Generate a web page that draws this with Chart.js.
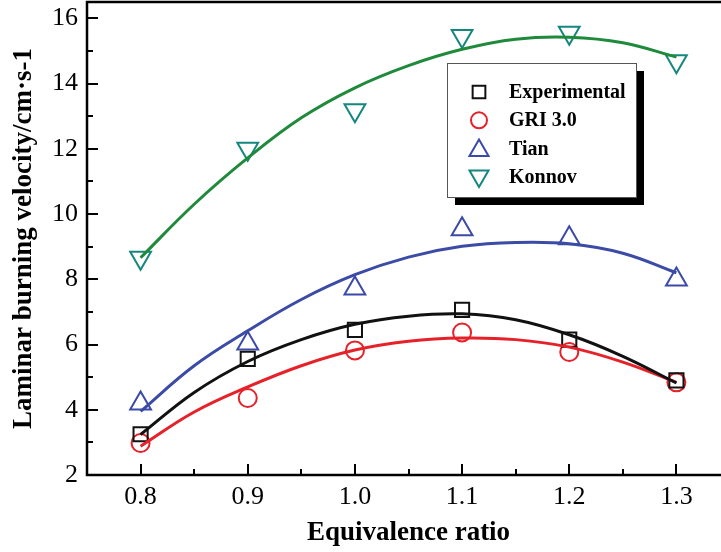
<!DOCTYPE html>
<html>
<head>
<meta charset="utf-8">
<script src="https://cdn.jsdelivr.net/npm/chart.js@4.4.1/dist/chart.umd.min.js"></script>
<style>
  html, body { margin: 0; padding: 0; background: #fff; overflow: hidden; }
  #wrap { width: 731px; height: 552px; }
</style>
</head>
<body>
<div id="wrap"><canvas id="burnChart" width="731" height="552"></canvas></div>
<script>
// measured points
const phi = [0.8, 0.9, 1.0, 1.1, 1.2, 1.3];
const experimental = [3.25, 5.56, 6.45, 7.06, 6.15, 4.9];
const gri30 = [2.98, 4.36, 5.82, 6.37, 5.77, 4.84];
const tian = [4.19, 6.03, 7.72, 9.53, 9.26, 7.99];
const konnov = [8.66, 12.0, 13.18, 15.46, 15.56, 14.68];

// fitted curves, sampled every 0.05
const fitPhi = [0.8, 0.85, 0.9, 0.95, 1.0, 1.05, 1.1, 1.15, 1.2, 1.25, 1.3];
const fitExperimental = [3.24, 4.53, 5.48, 6.15, 6.62, 6.87, 6.94, 6.76, 6.3, 5.64, 4.82];
const fitGri30 = [2.88, 3.93, 4.7, 5.35, 5.83, 6.1, 6.2, 6.15, 5.92, 5.46, 4.84];
const fitTian = [3.95, 5.35, 6.42, 7.38, 8.14, 8.68, 9.01, 9.13, 9.09, 8.8, 8.2];
const fitKonnov = [8.66, 10.3, 11.72, 12.95, 13.87, 14.55, 15.05, 15.36, 15.42, 15.25, 14.81];

const seriesNames = ["Experimental", "GRI 3.0", "Tian", "Konnov"];
const xTicks = [0.8, 0.9, 1.0, 1.1, 1.2, 1.3];
const yTicks = [2, 4, 6, 8, 10, 12, 14, 16];

const SERIF = "'Liberation Serif', 'Times New Roman', serif";

function pts(xs, ys) {
  return xs.map((x, i) => ({ x, y: ys[i] }));
}

function markerSet(label, data, color, style, radius, rotation) {
  return {
    label, data: pts(phi, data), showLine: false,
    pointStyle: style, pointRadius: radius, pointRotation: rotation || 0,
    pointBorderColor: color, pointBackgroundColor: "rgba(0,0,0,0)",
    pointBorderWidth: 2, pointHoverRadius: radius, order: 1
  };
}

function fitSet(data, color) {
  return {
    label: "", data: pts(fitPhi, data), showLine: true,
    borderColor: color, borderWidth: 3, pointRadius: 0, tension: 0.4,
    fill: false, order: 0
  };
}

const markers = [
  markerSet(seriesNames[0], experimental, "#111", "rect", 10),
  markerSet(seriesNames[1], gri30, "#e62129", "circle", 9),
  markerSet(seriesNames[2], tian, "#3b49a8", "triangle", 12),
  markerSet(seriesNames[3], konnov, "#15877f", "triangle", 12, 180)
];

// pin the plot box, ignoring the room chart.js keeps for edge labels
const plotBox = {
  id: "plotBox",
  afterLayout(chart) {
    const a = chart.chartArea;
    a.left = 87; a.top = 2; a.right = 730; a.bottom = 475;
    a.width = a.right - a.left; a.height = a.bottom - a.top;
    const { x, y } = chart.scales;
    x.left = a.left; x.right = a.right; x.width = a.width;
    x.top = a.bottom; x.bottom = 552; x.height = 552 - a.bottom;
    y.left = 0; y.right = a.left; y.width = a.left;
    y.top = a.top; y.bottom = a.bottom; y.height = a.height;
    x.configure();
    y.configure();
  }
};

// box frame plus inward ticks
const frameTicks = {
  id: "frameTicks",
  afterDraw(chart) {
    const { ctx, chartArea: a, scales: { x, y } } = chart;
    ctx.save();
    ctx.strokeStyle = "#000";
    ctx.lineWidth = 2;
    x.ticks.forEach(t => {
      const h = Math.round(t.value * 100);
      if (h <= 75 || h >= 135) return;
      const len = h % 10 === 0 ? 11 : 6;
      const px = Math.round(x.getPixelForValue(t.value));
      ctx.beginPath();
      ctx.moveTo(px, a.bottom);
      ctx.lineTo(px, a.bottom - len);
      ctx.stroke();
    });
    y.ticks.forEach(t => {
      if (t.value <= 2 || t.value > 16) return;
      const len = t.value % 2 === 0 ? 11 : 6;
      const py = Math.round(y.getPixelForValue(t.value));
      ctx.beginPath();
      ctx.moveTo(a.left, py);
      ctx.lineTo(a.left + len, py);
      ctx.stroke();
    });
    ctx.lineWidth = 2.5;
    ctx.strokeRect(a.left, a.top, a.right - a.left, a.bottom - a.top);
    ctx.restore();
  }
};

// legend box with drop shadow
const boxLegend = {
  id: "boxLegend",
  afterDraw(chart) {
    const { ctx } = chart;
    const bx = 447, by = 63, bw = 189, bh = 134;
    ctx.save();
    ctx.fillStyle = "#000";
    ctx.fillRect(bx + 8, by + 8, bw, bh);
    ctx.fillStyle = "#fff";
    ctx.fillRect(bx, by, bw, bh);
    ctx.strokeStyle = "#555";
    ctx.lineWidth = 1;
    ctx.strokeRect(bx + 0.5, by + 0.5, bw, bh);
    ctx.font = "bold 20px " + SERIF;
    ctx.textBaseline = "middle";
    markers.forEach((ds, i) => {
      const cy = by + 29 + i * 28.3;
      ctx.strokeStyle = ds.pointBorderColor;
      ctx.fillStyle = "rgba(0,0,0,0)";
      ctx.lineWidth = 2;
      Chart.helpers.drawPoint(ctx, {
        pointStyle: ds.pointStyle, rotation: ds.pointRotation,
        radius: ds.pointStyle === "rect" ? 9 : ds.pointStyle === "circle" ? 8 : 11,
        borderWidth: 2
      }, bx + 32, cy + (ds.pointStyle === "triangle" ? (ds.pointRotation ? -1 : 2) : 0));
      ctx.fillStyle = "#000";
      ctx.fillText(ds.label, bx + 62, cy + 1);
    });
    ctx.restore();
  }
};

new Chart(document.getElementById("burnChart"), {
  type: "scatter",
  data: {
    datasets: [
      fitSet(fitExperimental, "#111"),
      fitSet(fitGri30, "#e62129"),
      fitSet(fitTian, "#3b4ba6"),
      fitSet(fitKonnov, "#1f8a3b"),
      ...markers
    ]
  },
  options: {
    responsive: false,
    animation: false,
    layout: { padding: 0 },
    plugins: { legend: { display: false }, tooltip: { enabled: false } },
    scales: {
      x: {
        type: "linear", min: 0.75, max: 1.35,
        grid: { display: false, drawTicks: false },
        border: { display: false },
        ticks: {
          stepSize: 0.05, autoSkip: false, maxRotation: 0, padding: 7,
          color: "#000", font: { family: SERIF, size: 26 },
          callback: v => {
            const h = Math.round(v * 100);
            return xTicks.some(t => Math.round(t * 100) === h) ? (h / 100).toFixed(1) : "";
          }
        },
        title: {
          display: true, text: "Equivalence ratio", color: "#000",
          font: { family: SERIF, size: 27, weight: "bold" },
          padding: { top: 0, bottom: 3 }
        }
      },
      y: {
        type: "linear", min: 2, max: 16.5,
        grid: { display: false, drawTicks: false },
        border: { display: false },
        ticks: {
          stepSize: 1, autoSkip: false, includeBounds: false, padding: 9,
          color: "#000", font: { family: SERIF, size: 26 },
          callback: v => yTicks.includes(v) ? v : ""
        },
        title: {
          display: true, text: "Laminar burning velocity/cm·s-1", color: "#000",
          font: { family: SERIF, size: 27, weight: "bold" },
          padding: { top: 8, bottom: 0 }
        }
      }
    }
  },
  plugins: [plotBox, frameTicks, boxLegend]
});
</script>
</body>
</html>
